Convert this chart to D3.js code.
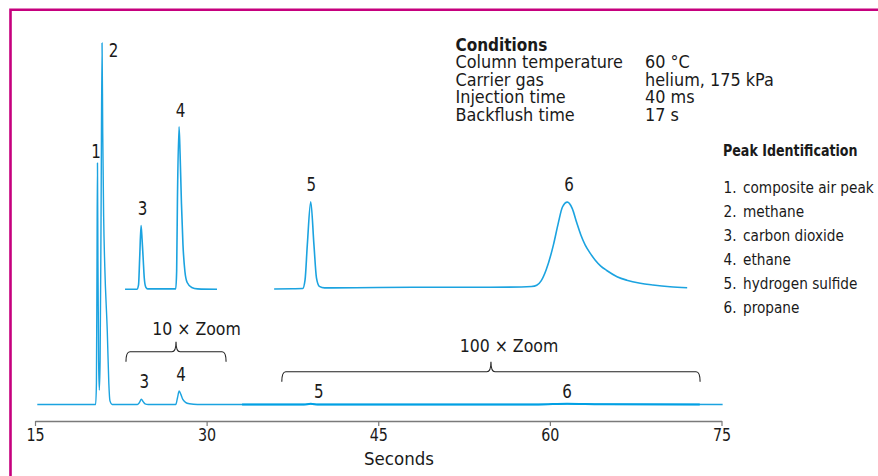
<!DOCTYPE html>
<html>
<head>
<meta charset="utf-8">
<script src="https://cdn.jsdelivr.net/npm/d3@7/dist/d3.min.js"></script>
<style>
  html, body { margin: 0; padding: 0; background: #fff; }
  svg { display: block; }
  text { font-family: "DejaVu Sans Condensed", "Liberation Sans", sans-serif; fill: #1a1a1a; }
</style>
</head>
<body>
<svg id="chart" width="878" height="476"></svg>
<script>
// Time axis (seconds)
const timeDomain = [15, 75];
const tickValues = [15, 30, 45, 60, 75];
const axisTitle = "Seconds";

// Full-scale trace: [time s, signal] (methane apex = 100)
const mainTrace = [
  [15.2, 0], [20.30, 0], [20.37, 6], [20.42, 40], [20.46, 66.8], [20.50, 40], [20.56, 12],
  [20.62, 4], [20.69, 12], [20.77, 50], [20.86, 100], [20.92, 75], [21.00, 52], [21.10, 38],
  [21.32, 20], [21.45, 6], [21.55, 1], [21.75, 0],
  [23.95, 0], [24.12, 0.5], [24.30, 1.44], [24.45, 0.8], [24.62, 0.2], [24.9, 0],
  [27.30, 0], [27.45, 1.8], [27.60, 3.74], [27.75, 2.8], [27.92, 1.4], [28.15, 0.6], [28.5, 0.2], [29.2, 0],
  [38.5, 0], [39.1, 0.2], [39.7, 0], [59.0, 0.02], [61.5, 0.2], [64.5, 0.05], [75.1, 0]
];

// 10 x zoom trace: [time s, signal x 10]
const zoom10Trace = [
  [22.87, 0], [23.90, 0], [24.05, 1], [24.15, 7], [24.27, 14.1], [24.36, 11], [24.45, 7],
  [24.55, 2.5], [24.68, 0.5], [24.85, 0.1], [27.30, 0.1], [27.38, 4], [27.45, 20], [27.59, 36],
  [27.68, 30], [27.80, 19], [27.93, 10], [28.10, 4], [28.30, 1.5], [28.70, 0.4], [29.20, 0.1], [30.91, 0]
];

// 100 x zoom trace: [time s, signal x 100]
const zoom100Trace = [
  [35.9, 0], [37.5, 0.05], [38.40, 0.1], [38.60, 2], [38.80, 10], [39.10, 19.8], [39.38, 10],
  [39.60, 2.5], [39.85, 0.6], [40.3, 0.25], [43, 0.3], [48, 0.4], [53, 0.4], [57.5, 0.45],
  [58.4, 0.55], [58.85, 0.85], [59.25, 1.9], [59.67, 4.3], [60.31, 10], [60.74, 15], [61.10, 18.6],
  [61.53, 19.7], [61.95, 18.3], [62.35, 15], [62.70, 12.3], [63.08, 10], [63.50, 8.2], [63.95, 6.6],
  [64.45, 5.2], [64.97, 4.2], [65.87, 2.8], [66.72, 2.0], [67.9, 1.3], [69.0, 0.9], [70.5, 0.5], [72.0, 0.3]
];

// Peak numbers and where they elute
const peakIds = ["1", "2", "3", "4", "5", "6"];
const peakTimes = [20.46, 20.86, 24.28, 27.59, 39.10, 61.53];
const peakNames = ["composite air peak", "methane", "carbon dioxide", "ethane", "hydrogen sulfide", "propane"];

// Zoom windows marked under the full-scale trace
const zoomLabels = ["10 × Zoom", "100 × Zoom"];
const zoomStarts = [22.95, 36.57];
const zoomEnds = [31.70, 73.13];

// Run conditions
const conditionTitle = "Conditions";
const conditionNames = ["Column temperature", "Carrier gas", "Injection time", "Backflush time"];
const conditionValues = ["60 °C", "helium, 175 kPa", "40 ms", "17 s"];
const legendTitle = "Peak Identification";

const svg = d3.select("#chart");
const traceColor = "#1ba3e0";

svg.append("rect").attr("width", 878).attr("height", 476).attr("fill", "#fff");

// Open frame (top and left rules)
svg.append("path")
  .attr("d", "M10.5,476 V9.8 H878")
  .attr("fill", "none")
  .attr("stroke", "#c6007e")
  .attr("stroke-width", 2.6);

const x = d3.scaleLinear().domain(timeDomain).range([35, 721.5]);
const yMain = d3.scaleLinear().domain([0, 100]).range([404.5, 43]);
const y10 = d3.scaleLinear().domain([0, 36]).range([289.3, 126.7]);
const y100 = d3.scaleLinear().domain([0, 19.8]).range([289, 201.7]);

const lineFor = y => d3.line().x(d => x(d[0])).y(d => y(d[1])).curve(d3.curveMonotoneX);

// Narrow label helper: condensed glyphs squeezed a little horizontally
function label(parent, px, py, str, size, opts = {}) {
  const sx = opts.sx || 1;
  return parent.append("text")
    .attr("transform", `translate(${px},${py}) scale(${sx},1)`)
    .attr("text-anchor", opts.anchor || "start")
    .attr("font-size", size)
    .attr("font-weight", opts.bold ? "bold" : "normal")
    .text(str);
}

// Axis
const axis = svg.append("g")
  .attr("transform", "translate(0,421)")
  .call(d3.axisBottom(x).tickValues(tickValues).tickSize(5).tickSizeOuter(0).tickPadding(2)
        .tickFormat(d3.format("d")));
axis.select(".domain").attr("stroke", "#7a7a7a").attr("stroke-width", 1.3);
axis.selectAll(".tick line").attr("stroke", "#7a7a7a").attr("stroke-width", 1.2);
axis.selectAll(".tick text")
  .attr("font-size", 18.5)
  .attr("fill", "#1a1a1a")
  .attr("transform", "scale(0.86,1)")
  .style("font-family", "'DejaVu Sans Condensed', sans-serif");

label(svg, 399, 465, axisTitle, 18.5, { anchor: "middle" });

// Full-scale trace
svg.append("path")
  .datum(mainTrace)
  .attr("d", lineFor(yMain))
  .attr("fill", "none")
  .attr("stroke", traceColor)
  .attr("stroke-width", 1.4)
  .attr("stroke-linejoin", "round");

// Heavier baseline through the 100 x window
svg.append("clipPath").attr("id", "baseClip")
  .append("rect")
  .attr("x", x(33.1)).attr("width", x(73.1) - x(33.1))
  .attr("y", 380).attr("height", 40);
svg.append("path")
  .datum(mainTrace)
  .attr("clip-path", "url(#baseClip)")
  .attr("d", lineFor(yMain))
  .attr("fill", "none")
  .attr("stroke", "#00a0e4")
  .attr("stroke-width", 2);

// Zoomed traces
svg.append("path")
  .datum(zoom10Trace)
  .attr("d", lineFor(y10))
  .attr("fill", "none")
  .attr("stroke", traceColor)
  .attr("stroke-width", 1.6)
  .attr("stroke-linejoin", "round");

svg.append("path")
  .datum(zoom100Trace)
  .attr("d", lineFor(y100))
  .attr("fill", "none")
  .attr("stroke", traceColor)
  .attr("stroke-width", 1.6)
  .attr("stroke-linejoin", "round");

// Peak apex lookup on a trace
function apex(trace, t) {
  let best = null;
  trace.forEach(p => {
    if (Math.abs(p[0] - t) < 0.35 && (!best || p[1] > best[1])) best = p;
  });
  return best;
}

// Peak numbers over the zoomed / full-scale peaks
const upperTraces = [[mainTrace, yMain], [mainTrace, yMain], [zoom10Trace, y10], [zoom10Trace, y10], [zoom100Trace, y100], [zoom100Trace, y100]];
const upperOffsets = [[-1.5, -5], [11.5, 14], [1.5, -10.7], [1.5, -9.7], [0.6, -10.7], [1.7, -11.3]];
peakIds.forEach((id, i) => {
  const [tr, ys] = upperTraces[i];
  const p = apex(tr, peakTimes[i]);
  label(svg, x(p[0]) + upperOffsets[i][0], ys(p[1]) + upperOffsets[i][1], id, 19.5, { anchor: "middle", sx: 0.86 });
});

// Peak numbers on the full-scale trace for the small peaks
const lowerOffsets = [null, null, [3, -11], [2, -9.5], [8, -6], [0, -6]];
peakIds.forEach((id, i) => {
  if (!lowerOffsets[i]) return;
  const p = apex(mainTrace, peakTimes[i]);
  label(svg, x(p[0]) + lowerOffsets[i][0], yMain(p[1]) + lowerOffsets[i][1], id, 19.5, { anchor: "middle", sx: 0.86 });
});

// Braces marking the zoom windows
function brace(x0, x1, y, h) {
  const xm = (x0 + x1) / 2, r = 4;
  return `M${x0},${y + h} Q${x0},${y} ${x0 + r},${y} H${xm - r} Q${xm},${y} ${xm},${y - h}` +
         ` Q${xm},${y} ${xm + r},${y} H${x1 - r} Q${x1},${y} ${x1},${y + h}`;
}
const braceY = [351.7, 371.7];
const braceLabelDx = [20.5, 18];
const braceLabelDy = [-16.7, -20];
zoomLabels.forEach((lab, i) => {
  const x0 = x(zoomStarts[i]), x1 = x(zoomEnds[i]);
  svg.append("path")
    .attr("d", brace(x0, x1, braceY[i], 10))
    .attr("fill", "none")
    .attr("stroke", "#222")
    .attr("stroke-width", 1.1);
  label(svg, (x0 + x1) / 2 + braceLabelDx[i], braceY[i] + braceLabelDy[i], lab, 17.5, { anchor: "middle" });
});

// Conditions block
const cond = svg.append("g");
label(cond, 455.5, 50.5, conditionTitle, 17, { bold: true });
conditionNames.forEach((n, i) => {
  label(cond, 455.5, 68.2 + i * 17.5, n, 17, { sx: 1.05 });
  label(cond, 645, 68.2 + i * 17.5, conditionValues[i], 17, { sx: 1.05 });
});

// Peak identification list
const legend = svg.append("g");
label(legend, 723, 156, legendTitle, 16, { bold: true, sx: 0.88 });
peakNames.forEach((n, i) => {
  label(legend, 723.5, 192.5 + i * 24, peakIds[i] + ".", 16, { sx: 0.95 });
  label(legend, 743, 192.5 + i * 24, n, 16, { sx: 0.95 });
});
</script>
</body>
</html>
